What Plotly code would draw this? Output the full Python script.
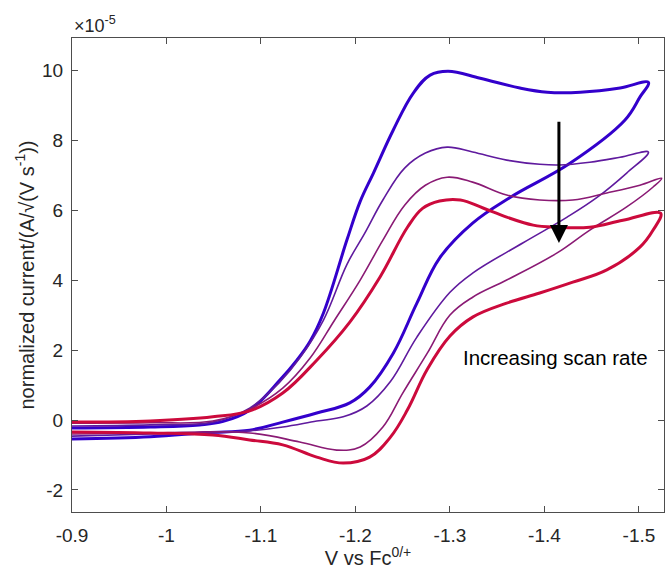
import plotly.graph_objects as go

# Cyclic voltammograms at four scan rates, current normalised by sqrt(scan rate).
# Potentials in V vs Fc0/+, currents in units of 1e-5 A/sqrt(V s^-1).
# Each trace: forward (cathodic) sweep out to the switching potential, then the return sweep.

E_1 = [-0.900, -0.983, -1.035, -1.060, -1.088, -1.120, -1.138, -1.152, -1.166, -1.191,
       -1.205, -1.219, -1.240, -1.261, -1.279, -1.298, -1.332, -1.374, -1.403, -1.438,
       -1.480, -1.510,
       -1.501, -1.485, -1.427, -1.364, -1.324, -1.289, -1.265, -1.240, -1.215, -1.194,
       -1.159, -1.123, -1.088, -1.043, -0.983, -0.900]
I_1 = [-0.23, -0.20, -0.14, -0.04, 0.28, 1.14, 1.71, 2.25, 3.05, 5.15,
       6.25, 7.06, 8.29, 9.34, 9.86, 9.97, 9.77, 9.49, 9.37, 9.37,
       9.49, 9.65,
       9.23, 8.57, 7.34, 6.37, 5.63, 4.63, 3.34, 1.91, 0.94, 0.49,
       0.20, -0.06, -0.29, -0.36, -0.48, -0.54]

E_2 = [-0.900, -0.983, -1.049, -1.088, -1.120, -1.141, -1.166, -1.191, -1.210, -1.229,
       -1.252, -1.274, -1.297, -1.324, -1.360, -1.395, -1.416, -1.448, -1.480, -1.510,
       -1.487, -1.456, -1.424, -1.377, -1.324, -1.300, -1.265, -1.237, -1.212, -1.187,
       -1.159, -1.123, -1.088, -0.983, -0.900]
I_2 = [-0.17, -0.14, -0.06, 0.34, 1.09, 1.77, 2.85, 4.45, 5.35, 6.29,
       7.20, 7.63, 7.80, 7.66, 7.43, 7.31, 7.29, 7.37, 7.51, 7.66,
       7.06, 6.37, 5.80, 5.06, 4.20, 3.65, 2.37, 1.10, 0.40, 0.09,
       -0.03, -0.20, -0.31, -0.40, -0.46]

E_3 = [-0.900, -0.983, -1.049, -1.088, -1.123, -1.152, -1.178, -1.205, -1.229, -1.252,
       -1.274, -1.297, -1.324, -1.360, -1.395, -1.430, -1.466, -1.501, -1.524,
       -1.515, -1.487, -1.448, -1.413, -1.360, -1.324, -1.300, -1.276, -1.250, -1.229,
       -1.205, -1.180, -1.141, -1.088, -0.983, -0.900]
I_3 = [-0.09, -0.08, -0.03, 0.31, 0.91, 1.77, 2.86, 4.00, 5.14, 6.14,
       6.71, 6.94, 6.80, 6.43, 6.29, 6.29, 6.49, 6.71, 6.91,
       6.66, 6.09, 5.43, 4.77, 4.00, 3.51, 3.00, 1.91, 0.77, -0.20,
       -0.77, -0.86, -0.63, -0.37, -0.37, -0.40]

E_4 = [-0.900, -0.983, -1.049, -1.088, -1.123, -1.159, -1.194, -1.226, -1.255, -1.271,
       -1.289, -1.311, -1.335, -1.360, -1.388, -1.413, -1.448, -1.483, -1.523,
       -1.515, -1.501, -1.466, -1.430, -1.395, -1.360, -1.324, -1.300, -1.276,
       -1.255, -1.237, -1.215, -1.187, -1.159, -1.123, -1.088, -1.049, -0.983, -0.900]
I_4 = [-0.06, -0.03, 0.09, 0.26, 0.77, 1.71, 2.80, 4.09, 5.51, 6.05,
       6.26, 6.29, 6.06, 5.80, 5.57, 5.51, 5.51, 5.71, 5.91,
       5.43, 4.94, 4.29, 3.94, 3.63, 3.34, 2.94, 2.40, 1.45,
       0.29, -0.49, -1.06, -1.23, -1.06, -0.71, -0.57, -0.43, -0.37, -0.34]

curve_colors = ["#3300cc", "#5f1a9e", "#8a1a74", "#cc0a3c"]
curve_widths = [3, 1.6, 1.6, 3]

x_ticks = [-0.9, -1.0, -1.1, -1.2, -1.3, -1.4, -1.5]
x_ticklabels = ["-0.9", "-1", "-1.1", "-1.2", "-1.3", "-1.4", "-1.5"]
y_ticks = [-2, 0, 2, 4, 6, 8, 10]
y_ticklabels = ["-2", "0", "2", "4", "6", "8", "10"]

arrow_E = -1.4153
arrow_top = 8.57
arrow_tip = 5.06

axis_color = "#4d4d4d"
text_color = "#262626"

fig = go.Figure()
for E, I, c, w in zip([E_1, E_2, E_3, E_4], [I_1, I_2, I_3, I_4], curve_colors, curve_widths):
    fig.add_trace(go.Scatter(x=E, y=I, mode="lines",
                             line=dict(color=c, width=w, shape="spline", smoothing=1.1),
                             hoverinfo="skip"))

fig.add_annotation(x=arrow_E, y=arrow_tip, ax=arrow_E, ay=arrow_top,
                   xref="x", yref="y", axref="x", ayref="y",
                   showarrow=True, arrowhead=2, arrowsize=1.2, arrowwidth=3,
                   arrowcolor="black", text="")
fig.add_annotation(x=-1.412, y=1.8, xref="x", yref="y", text="Increasing scan rate",
                   showarrow=False, font=dict(size=20.5, color="black"))
fig.add_annotation(x=0, y=1, xref="paper", yref="paper", xanchor="left", yanchor="bottom",
                   text="×10<sup>-5</sup>", showarrow=False,
                   font=dict(size=18, color=text_color))

common = dict(showline=True, linecolor=axis_color, linewidth=1, mirror="ticks",
              ticks="inside", ticklen=6, tickcolor=axis_color, tickwidth=1,
              showgrid=False, zeroline=False,
              tickfont=dict(size=19, color=text_color))

fig.update_layout(
    width=666, height=569,
    margin=dict(l=72, r=2, t=38, b=57),
    plot_bgcolor="white", paper_bgcolor="white",
    showlegend=False,
    font=dict(family="Liberation Sans, Arial, sans-serif", color=text_color),
    xaxis=dict(range=[-0.9, -1.5265], tickvals=x_ticks, ticktext=x_ticklabels,
               ticklabelstandoff=6,
               title=dict(text="V vs Fc<sup>0/+</sup>", font=dict(size=20, color=text_color),
                          standoff=4),
               **common),
    yaxis=dict(range=[-2.63, 10.92], tickvals=y_ticks, ticktext=y_ticklabels,
               ticklabelstandoff=4,
               title=dict(text="normalized current/(A/√(V s<sup>-1</sup>))",
                          font=dict(size=20, color=text_color), standoff=2),
               **common),
)

fig.write_html("out.html")
